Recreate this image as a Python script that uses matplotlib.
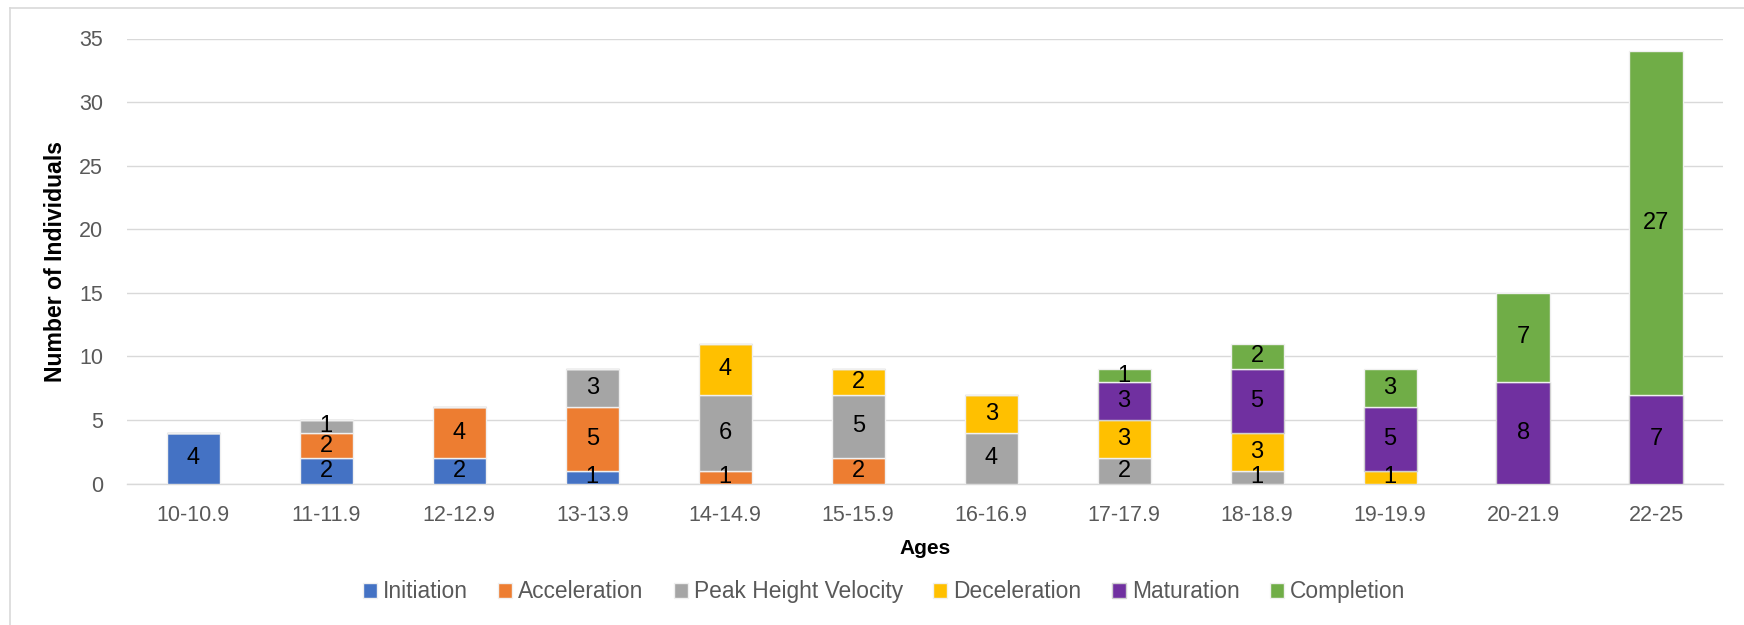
import matplotlib
matplotlib.use("Agg")
import matplotlib.pyplot as plt
from matplotlib.lines import Line2D
import numpy as np

plt.rcParams['font.family'] = ['Liberation Sans', 'DejaVu Sans']

# Age groups and counts per maturity stage
ages = ["10-10.9", "11-11.9", "12-12.9", "13-13.9", "14-14.9", "15-15.9",
        "16-16.9", "17-17.9", "18-18.9", "19-19.9", "20-21.9", "22-25"]
initiation   = [4, 2, 2, 1, 0, 0, 0, 0, 0, 0, 0, 0]
acceleration = [0, 2, 4, 5, 1, 2, 0, 0, 0, 0, 0, 0]
peak_hv      = [0, 1, 0, 3, 6, 5, 4, 2, 1, 0, 0, 0]
deceleration = [0, 0, 0, 0, 4, 2, 3, 3, 3, 1, 0, 0]
maturation   = [0, 0, 0, 0, 0, 0, 0, 3, 5, 5, 8, 7]
completion   = [0, 0, 0, 0, 0, 0, 0, 1, 2, 3, 7, 27]

stages = ["Initiation", "Acceleration", "Peak Height Velocity",
          "Deceleration", "Maturation", "Completion"]
series = [initiation, acceleration, peak_hv, deceleration, maturation, completion]
colors = ['#4472C4', '#ED7D31', '#A5A5A5', '#FFC000', '#7030A0', '#70AD47']

fig = plt.figure(figsize=(17.44, 6.25), dpi=100)
ax = fig.add_axes([0.0727, 0.2261, 0.915, 0.7123])

x = np.arange(len(ages))
bottom = np.zeros(len(ages))
handles = []
for name, vals, col in zip(stages, series, colors):
    vals = np.array(vals, dtype=float)
    edge = '#d0d0d0' if name == "Maturation" else '#f0f0f0'
    bars = ax.bar(x, vals, 0.4, bottom=bottom, color=col, edgecolor=edge,
                  linewidth=1.0, label=name, zorder=3)
    handles.append(bars)
    # value labels in the middle of each segment
    for xi, v, b in zip(x, vals, bottom):
        if v > 0:
            ax.text(xi, b + v / 2, f"{int(v)}", ha='center', va='center',
                    fontsize=17, color='black', zorder=4)
    bottom += vals

ax.set_xlim(-0.5, len(ages) - 0.5)
ax.set_ylim(0, 35)
ax.set_yticks(range(0, 36, 5))
ax.set_xticks(x)
ax.set_xticklabels(ages)
ax.tick_params(axis='both', length=0, labelsize=15.5, labelcolor='#595959')
ax.tick_params(axis='y', pad=17)
ax.tick_params(axis='x', pad=15)
ax.grid(axis='y', color='#d9d9d9', linewidth=1.0, zorder=0)
for s in ['top', 'right', 'left']:
    ax.spines[s].set_visible(False)
ax.spines['bottom'].set_color('#d9d9d9')
ax.spines['bottom'].set_linewidth(1.0)

ax.set_ylabel("Number of Individuals", fontsize=16.6, fontweight='bold', labelpad=9)
fig.text(925 / 1744, 1 - 548 / 625, "Ages", fontsize=15, fontweight='bold',
         ha='center', va='center')

fig.legend(handles, stages, loc='center', bbox_to_anchor=(0.507, 0.053),
           ncol=6, frameon=False, fontsize=16.4, labelcolor='#595959',
           handlelength=0.6, handleheight=0.6, handletextpad=0.28,
           columnspacing=1.33)

# chart area border (top and left visible)
fig.add_artist(Line2D([10 / 1744, 1], [1 - 8 / 625, 1 - 8 / 625],
                      transform=fig.transFigure, color='#d9d9d9', linewidth=1.2))
fig.add_artist(Line2D([10 / 1744, 10 / 1744], [0, 1 - 8 / 625],
                      transform=fig.transFigure, color='#d9d9d9', linewidth=1.2))

fig.savefig("out.png", dpi=100, facecolor='white')
